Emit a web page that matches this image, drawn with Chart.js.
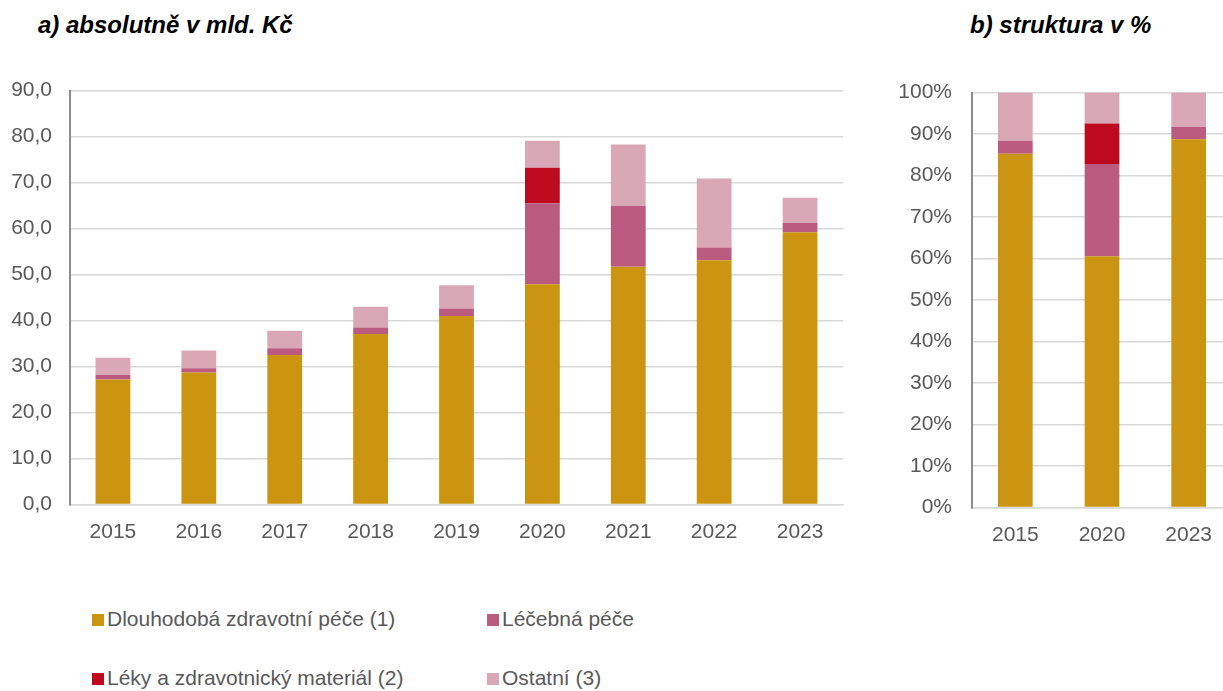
<!DOCTYPE html>
<html lang="cs">
<head>
<meta charset="utf-8">
<script src="https://cdn.jsdelivr.net/npm/chart.js@4.4.1/dist/chart.umd.min.js"></script>
<style>
  html, body { margin: 0; padding: 0; background: #fff; overflow: hidden; }
  body { width: 1223px; height: 691px; position: relative; font-family: "Liberation Sans", Arial, sans-serif; }
  .title { position: absolute; font-weight: bold; font-style: italic; font-size: 24px; color: #000; line-height: 1; }
  canvas { position: absolute; }
  .leg { position: absolute; font-size: 21px; color: #595959; line-height: 24px; height: 24px; white-space: nowrap; }
  .leg i { display: inline-block; width: 12px; height: 12px; margin-right: 3px; vertical-align: 0; }
</style>
</head>
<body>
<div class="title" style="left:38px; top:13px;">a) absolutně v mld. Kč</div>
<div class="title" style="left:970px; top:13px;">b) struktura v %</div>
<canvas id="absChart" width="860" height="500" style="left:0; top:60px;"></canvas>
<canvas id="pctChart" width="360" height="500" style="left:880px; top:60px;"></canvas>
<div id="legend"></div>

<script>
const roky = ['2015', '2016', '2017', '2018', '2019', '2020', '2021', '2022', '2023'];
const dlouhodoba = [27.2, 28.7, 32.5, 37.1, 41.0, 47.9, 51.7, 53.1, 59.2];
const lecebna = [1.0, 0.9, 1.5, 1.4, 1.6, 17.6, 13.2, 2.8, 2.0];
const leky = [0, 0, 0, 0, 0, 7.7, 0, 0, 0];
const ostatni = [3.7, 3.9, 3.8, 4.5, 5.1, 5.9, 13.4, 15.0, 5.5];
const rokyStruktura = ['2015', '2020', '2023'];

const nazvy = ['Dlouhodobá zdravotní péče (1)', 'Léčebná péče', 'Léky a zdravotnický materiál (2)', 'Ostatní (3)'];
const barvy = ['#CC9511', '#BB5B7F', '#BE0A1E', '#D9A7B6'];
const rady = [dlouhodoba, lecebna, leky, ostatni];

const FONT = '"Liberation Sans", Arial, sans-serif';
const tickColor = '#595959';

function makeDatasets(series, barPct) {
  return series.map((data, i) => ({
    label: nazvy[i],
    data: data,
    backgroundColor: barvy[i],
    borderWidth: 0,
    barPercentage: barPct,
    categoryPercentage: 1
  }));
}

function baseOptions(yWidth, xHeight, padding, yScale) {
  return {
    responsive: false,
    animation: false,
    layout: { padding: padding },
    plugins: { legend: { display: false }, tooltip: { enabled: false } },
    scales: {
      x: {
        stacked: true,
        grid: { display: false, drawTicks: false },
        border: { color: '#d9d9d9', width: 1.5 },
        ticks: { color: tickColor, font: { family: FONT, size: 21 }, padding: 15 },
        afterFit: s => { s.height = xHeight; }
      },
      y: Object.assign({
        stacked: true,
        beginAtZero: true,
        grid: { color: '#d9d9d9', lineWidth: 1.5, drawTicks: false },
        border: { color: '#8c8c8c', width: 2 },
        afterFit: s => { s.width = yWidth; }
      }, yScale)
    }
  };
}

// a) absolute values
new Chart(document.getElementById('absChart'), {
  type: 'bar',
  data: { labels: roky, datasets: makeDatasets(rady, 0.405) },
  options: baseOptions(70, 55.5, { top: 27.5, right: 17, left: 0, bottom: 0 }, {
    min: 0,
    max: 90,
    ticks: {
      stepSize: 10,
      color: tickColor,
      font: { family: FONT, size: 21 },
      padding: 18,
      callback: v => v.toFixed(1).replace('.', ',')
    }
  })
});

// b) structure in % for selected years
const idx = rokyStruktura.map(r => roky.indexOf(r));
const soucty = idx.map(i => rady.reduce((s, r) => s + r[i], 0));
const podily = rady.map(r => idx.map((i, k) => r[i] / soucty[k] * 100));

new Chart(document.getElementById('pctChart'), {
  type: 'bar',
  data: { labels: rokyStruktura, datasets: makeDatasets(podily, 0.4) },
  options: baseOptions(92, 52.5, { top: 31, right: 8, left: 0, bottom: 0 }, {
    min: 0,
    max: 100,
    ticks: {
      stepSize: 10,
      color: tickColor,
      font: { family: FONT, size: 21 },
      padding: 20,
      callback: v => v + '%'
    }
  })
});

// legend in two columns
const pozice = [[92, 607], [487, 607], [92, 666], [487, 666]];
const legend = document.getElementById('legend');
nazvy.forEach((n, i) => {
  const el = document.createElement('div');
  el.className = 'leg';
  el.style.left = pozice[i][0] + 'px';
  el.style.top = pozice[i][1] + 'px';
  el.innerHTML = '<i style="background:' + barvy[i] + '"></i>' + n;
  legend.appendChild(el);
});
</script>
</body>
</html>
